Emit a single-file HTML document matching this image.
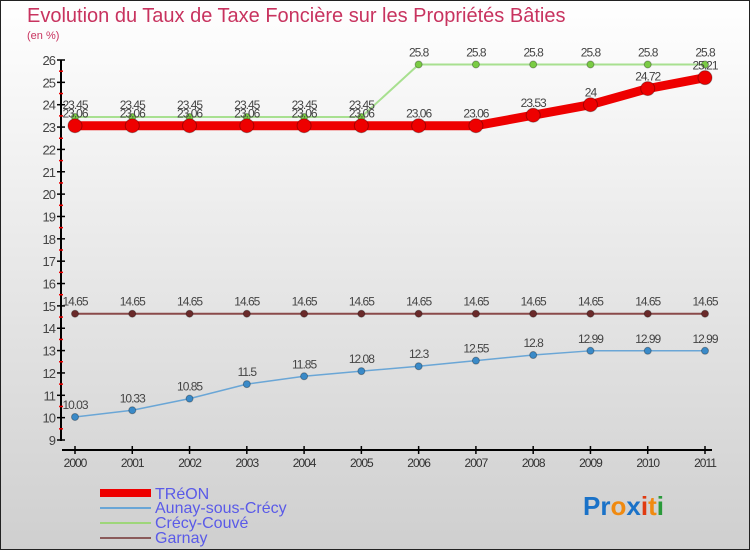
<!DOCTYPE html>
<html><head><meta charset="utf-8"><style>
body{margin:0;width:750px;height:550px;overflow:hidden}
svg{display:block;font-family:"Liberation Sans",sans-serif}
</style></head><body>
<svg id="chart" width="750" height="550">
<defs><linearGradient id="bg" x1="0" y1="0" x2="0" y2="1"><stop offset="0" stop-color="#ffffff"/><stop offset="1" stop-color="#cfcfcf"/></linearGradient></defs>
<rect x="0.5" y="0.5" width="749" height="549" fill="url(#bg)" stroke="#222"/>
<text x="27" y="22" font-size="20" fill="#c8335f">Evolution du Taux de Taxe Foncière sur les Propriétés Bâties</text>
<text x="27" y="39" font-size="11" fill="#c8335f">(en %)</text>
<g id="axes"></g><g id="series"></g>
<g>
<rect x="100" y="489" width="51" height="8" fill="#e00"/>
<text x="155" y="499" font-size="16" fill="#5a5ae8">TRéON</text>
<line x1="100" y1="508" x2="151" y2="508" stroke="#6aa6d6" stroke-width="2"/>
<text x="155" y="513" font-size="16" fill="#5a5ae8">Aunay-sous-Crécy</text>
<line x1="100" y1="523" x2="151" y2="523" stroke="#9ed67a" stroke-width="2"/>
<text x="155" y="528" font-size="16" fill="#5a5ae8">Crécy-Couvé</text>
<line x1="100" y1="538" x2="151" y2="538" stroke="#8a5a5a" stroke-width="2"/>
<text x="155" y="543" font-size="16" fill="#5a5ae8">Garnay</text>
</g>
<g font-size="26" font-weight="bold" font-family="Liberation Sans,sans-serif">
<text x="583" y="515"><tspan fill="#1a72c8">Pr</tspan><tspan fill="#f08a10">o</tspan><tspan fill="#1a72c8">x</tspan><tspan fill="#e03a10">i</tspan><tspan fill="#f08a10">t</tspan><tspan fill="#2a9a3a">i</tspan></text>
</g>
</svg>
<script>
const years=[2000,2001,2002,2003,2004,2005,2006,2007,2008,2009,2010,2011];
const treon=[23.06,23.06,23.06,23.06,23.06,23.06,23.06,23.06,23.53,24,24.72,25.21];
const aunay=[10.03,10.33,10.85,11.5,11.85,12.08,12.3,12.55,12.8,12.99,12.99,12.99];
const crecy=[23.45,23.45,23.45,23.45,23.45,23.45,25.8,25.8,25.8,25.8,25.8,25.8];
const garnay=[14.65,14.65,14.65,14.65,14.65,14.65,14.65,14.65,14.65,14.65,14.65,14.65];
const yTicks=[9,10,11,12,13,14,15,16,17,18,19,20,21,22,23,24,25,26];
const NS="http://www.w3.org/2000/svg";
const x=i=>75+i*(630/(years.length-1));
const y=v=>60+(26-v)*(380/17);
function mk(tag,attrs,parent){const e=document.createElementNS(NS,tag);for(const k in attrs)e.setAttribute(k,attrs[k]);parent.appendChild(e);return e;}
const ax=document.getElementById('axes');
let l=mk('line',{x1:61,y1:60,x2:61,y2:441,stroke:'#000','stroke-width':2},ax);


l=mk('line',{x1:62,y1:450,x2:712,y2:450,stroke:'#000','stroke-width':2},ax);


yTicks.forEach(v=>{
 const t=mk('line',{x1:57,x2:65,y1:y(v),y2:y(v),stroke:'#000','stroke-width':1.5},ax);
 
 
 const tx=mk('text',{x:55,y:y(v)+5,'font-size':13,'text-anchor':'end',fill:'#444','letter-spacing':'-1'},ax);
 tx.textContent=v;
 
 
 if(v<26){const m=mk('line',{x1:59,x2:63,y1:y(v+0.5),y2:y(v+0.5),stroke:'#e00','stroke-width':1.5},ax);
 
 }
});
years.forEach((yr,i)=>{
 const t=mk('line',{x1:x(i),x2:x(i),y1:446,y2:454,stroke:'#000','stroke-width':1.5},ax);
 
 
 const tx=mk('text',{x:x(i),y:467,'font-size':12,'text-anchor':'middle',fill:'#333','letter-spacing':'-1'},ax);
 tx.textContent=yr;
 
 
});
const sg=document.getElementById('series');
function series(name,vals,color,w,r,dot){
 const g=mk('g',{},sg);
 
 
 const p=mk('polyline',{points:vals.map((v,i)=>x(i)+','+y(v)).join(' '),fill:'none',stroke:color,'stroke-width':w,'stroke-linejoin':'round'},g);
 
 
 vals.forEach((v,i)=>{
  const c=mk('circle',{cx:x(i),cy:y(v),r:r,fill:dot,stroke:'rgba(0,0,0,0.3)','stroke-width':1},g);
  
  
  const t=mk('text',{x:x(i),y:y(v)-8,'font-size':12,'text-anchor':'middle',fill:'#444','letter-spacing':'-1'},g);
  t.textContent=String(v);
  
  
 });
}
series('garnay',garnay,'#8a4a4a',2,3.5,'#6a2a2a');
series('aunay',aunay,'#6aa6d6',1.5,3.5,'#3a8ac8');
series('crecy',crecy,'#a8e090',2,3.5,'#7acc44');
series('treon',treon,'#ee0000',9,7,'#ee0000');
</script>
</body></html>
